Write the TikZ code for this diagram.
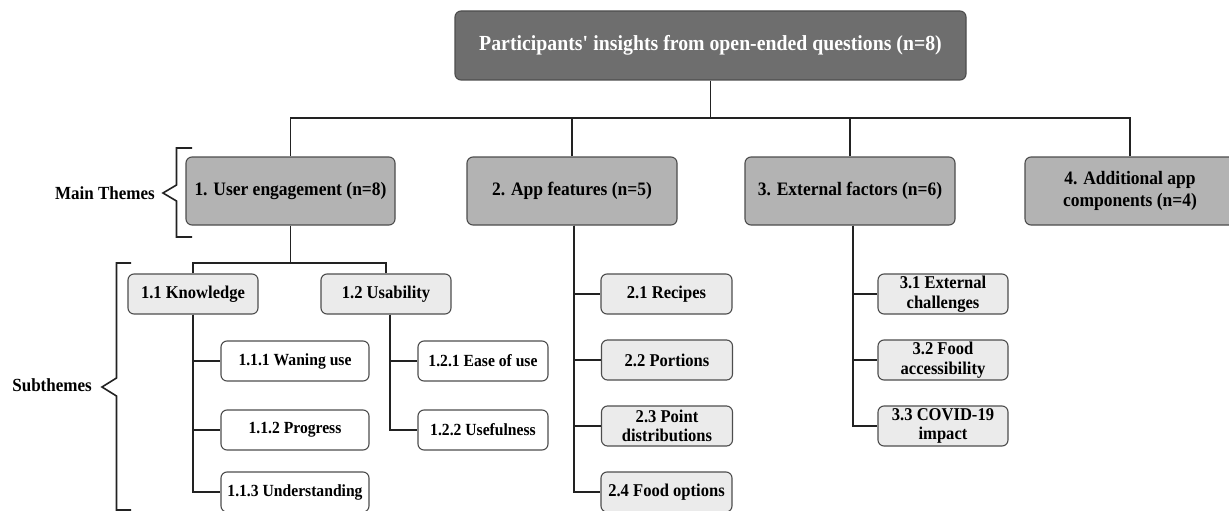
\documentclass[tikz,border=0pt]{standalone}
\usepackage{fontspec}
\setmainfont{Liberation Serif}[FakeStretch=0.92]
\definecolor{rootfill}{HTML}{6E6E6E}
\definecolor{mainfill}{HTML}{B3B3B3}
\definecolor{subfill}{HTML}{EBEBEB}
\definecolor{boxline}{HTML}{4D4D4D}
\definecolor{conline}{HTML}{222222}
\begin{document}
\begin{tikzpicture}[x=1pt,y=-1pt,
  base/.style={draw=boxline,line width=1.1pt,rounded corners=6pt,inner sep=0pt,align=center,font=\bfseries},
  rootbox/.style={base,fill=rootfill,text=white,minimum width=511pt,minimum height=69pt,font=\bfseries\fontsize{21.5}{25}\selectfont},
  mainbox/.style={base,fill=mainfill,minimum width=210pt,minimum height=68pt,font=\bfseries\fontsize{19}{21.5}\selectfont},
  subbox/.style={base,fill=subfill,minimum width=130pt,minimum height=40pt,font=\bfseries\fontsize{18}{19.5}\selectfont},
  leafbox/.style={base,fill=white,minimum width=130pt,minimum height=40pt,font=\bfseries\fontsize{17}{19}\selectfont},
  conn/.style={draw=conline,line width=1.6pt},
  brace/.style={draw=conline,line width=1.6pt},
  lbl/.style={font=\bfseries\fontsize{18.5}{20}\selectfont,inner sep=0pt}
]
\clip (0,0) rectangle (1229,511);
\fill[white] (0,0) rectangle (1229,511);

% root
\node[rootbox] (root) at (710.5,45.5) {Participants\textquotesingle{} insights from open-ended questions (n=8)};

% main themes
\node[mainbox,minimum width=209pt] (b1) at (290.5,191) {1. User engagement (n=8)};
\node[mainbox] (b2) at (572,191) {2. App features (n=5)};
\node[mainbox] (b3) at (850,191) {3. External factors (n=6)};
\node[mainbox] (b4) at (1130,191) {4. Additional app\\components (n=4)};

% level 2
\node[subbox] (k) at (193,294) {1.1 Knowledge};
\node[subbox] (u) at (386,294) {1.2 Usability};

\node[subbox,minimum width=131pt] (f1) at (666.5,294) {2.1 Recipes};
\node[subbox,minimum width=131pt] (f2) at (667,360) {2.2 Portions};
\node[subbox,minimum width=131pt] (f3) at (667,426) {2.3 Point\\distributions};
\node[subbox,minimum width=131pt] (f4) at (666.5,492) {2.4 Food options};

\node[subbox] (e1) at (943,294) {3.1 External\\challenges};
\node[subbox] (e2) at (943,360) {3.2 Food\\accessibility};
\node[subbox] (e3) at (943,426) {3.3 COVID-19\\impact};

% level 3
\node[leafbox,minimum width=148pt] (k1) at (295,361) {1.1.1 Waning use};
\node[leafbox,minimum width=148pt] (k2) at (295,430) {1.1.2 Progress};
\node[leafbox,minimum width=148pt] (k3) at (295,492) {1.1.3 Understanding};
\node[leafbox] (u1) at (483,361) {1.2.1 Ease of use};
\node[leafbox] (u2) at (483,430) {1.2.2 Usefulness};

% connectors: root to main themes
\coordinate (rj) at (710.5,118);
\draw[conn] (root.south) -- (rj);
\draw[conn] (b1.north) |- (rj);
\draw[conn] (b4.north) |- (rj);
\draw[conn] (b2.north) -- (b2.north |- rj);
\draw[conn] (b3.north) -- (b3.north |- rj);

% user engagement
\coordinate (uj) at (290.5,263);
\draw[conn] (b1.south) -- (uj);
\draw[conn] (k.north) |- (uj);
\draw[conn] (u.north) |- (uj);

\draw[conn] (k.south) |- (k1.west);
\draw[conn] (k.south) |- (k2.west);
\draw[conn] (k.south) |- (k3.west);
\draw[conn] ([xshift=4pt]u.south) |- (u1.west);
\draw[conn] ([xshift=4pt]u.south) |- (u2.west);

% app features
\draw[conn] ([xshift=2pt]b2.south) |- (f1.west);
\draw[conn] ([xshift=2pt]b2.south) |- (f2.west);
\draw[conn] ([xshift=2pt]b2.south) |- (f3.west);
\draw[conn] ([xshift=2pt]b2.south) |- (f4.west);

% external factors
\draw[conn] ([xshift=3pt]b3.south) |- (e1.west);
\draw[conn] ([xshift=3pt]b3.south) |- (e2.west);
\draw[conn] ([xshift=3pt]b3.south) |- (e3.west);

% brackets
\draw[brace] (192,148) -- (176.5,148) -- (176.5,185) -- (163,193) -- (176.5,201) -- (176.5,237) -- (192,237);
\draw[brace] (131,263) -- (116.5,263) -- (116.5,378) -- (102,387) -- (116.5,396) -- (116.5,510) -- (131,510);

\node[lbl,anchor=east] (mt) at (155,193) {Main Themes};
\node[lbl,anchor=east] (st) at (92,385) {Subthemes};
\end{tikzpicture}
\end{document}
